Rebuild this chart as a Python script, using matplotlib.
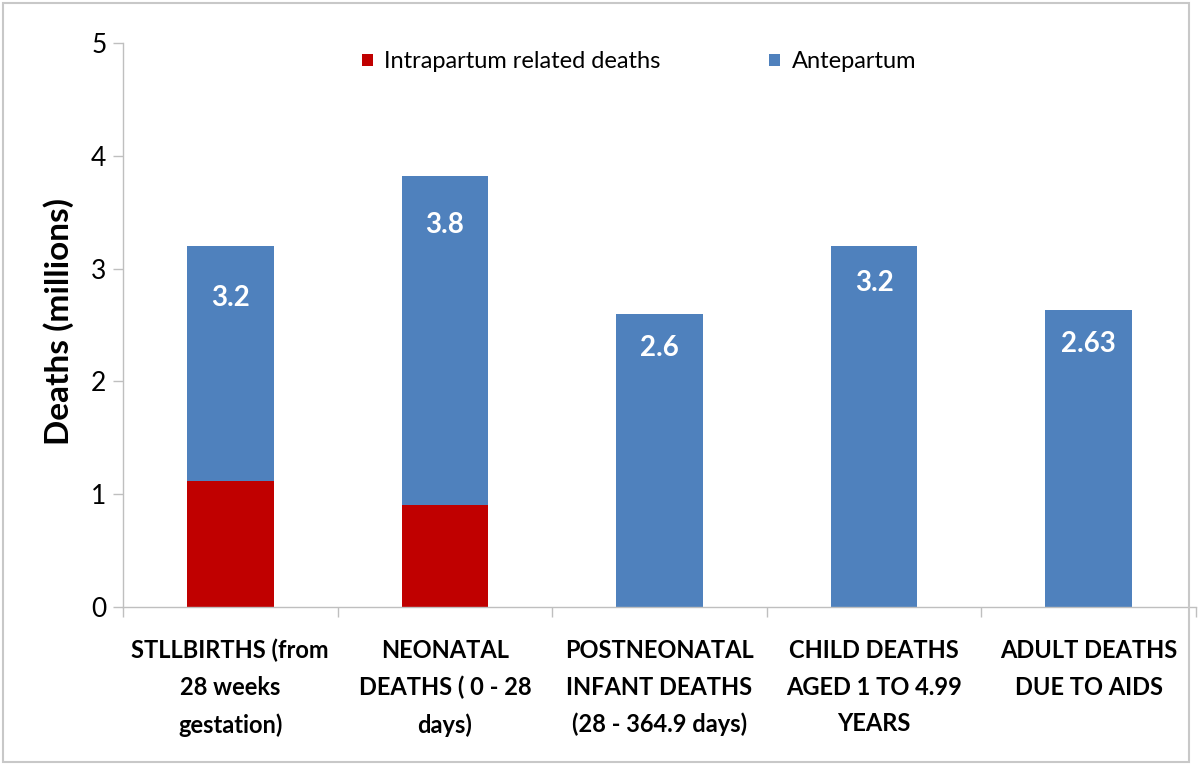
import matplotlib
matplotlib.use("Agg")
import matplotlib.pyplot as plt
from matplotlib.patches import Rectangle, Patch
import numpy as np

plt.rcParams['font.family'] = ['Lato', 'DejaVu Sans']

categories = [
    "STLLBIRTHS (from\n28 weeks\ngestation)",
    "NEONATAL\nDEATHS ( 0 - 28\ndays)",
    "POSTNEONATAL\nINFANT DEATHS\n(28 - 364.9 days)",
    "CHILD DEATHS\nAGED 1 TO 4.99\nYEARS",
    "ADULT DEATHS\nDUE TO AIDS",
]
intrapartum = [1.12, 0.90, 0.0, 0.0, 0.0]
totals = [3.2, 3.82, 2.6, 3.2, 2.63]
value_labels = ["3.2", "3.8", "2.6", "3.2", "2.63"]
antepartum = [t - i for t, i in zip(totals, intrapartum)]
series_names = ["Intrapartum related deaths", "Antepartum"]
yticks = [0, 1, 2, 3, 4, 5]

RED = "#C00000"
BLUE = "#4F81BD"
GRID = "#BFBFBF"

W, H = 1200, 765
fig = plt.figure(figsize=(W / 100, H / 100), dpi=100)
ax = fig.add_axes([123 / W, 1 - 607 / H, (1196 - 123) / W, (607 - 43) / H])

x = np.arange(len(categories))
ax.bar(x, intrapartum, width=0.404, color=RED, label=series_names[0])
ax.bar(x, antepartum, bottom=intrapartum, width=0.404, color=BLUE, label=series_names[1])

# value labels (offset below the top of each bar, in data units)
label_drop = [0.46, 0.43, 0.30, 0.33, 0.30]
for xi, t, lab, d in zip(x, totals, value_labels, label_drop):
    ax.text(xi, t - d, lab, ha="center", va="center", color="white",
            fontsize=20, fontweight="bold")

ax.set_xlim(-0.5, len(categories) - 0.5)
ax.set_ylim(0, 5)
ax.set_yticks(yticks)
ax.set_yticklabels([str(v) for v in yticks], fontsize=19)
ax.set_xticks(x)
ax.set_xticklabels(categories, fontsize=17, fontweight="bold", linespacing=1.72)
ax.set_xticks(np.arange(-0.5, len(categories), 1.0), minor=True)
ax.tick_params(axis="x", which="major", length=0, pad=23)
ax.tick_params(axis="x", which="minor", length=7, color=GRID, width=1)
ax.tick_params(axis="y", length=7, color=GRID, width=1, pad=5)

for s in ["top", "right"]:
    ax.spines[s].set_visible(False)
for s in ["left", "bottom"]:
    ax.spines[s].set_color(GRID)
    ax.spines[s].set_linewidth(1)

ax.set_ylabel("Deaths (millions)", fontsize=24, fontweight="bold")
ax.yaxis.set_label_coords(-0.046, 0.507)

handles = [Patch(facecolor=RED, edgecolor="none"), Patch(facecolor=BLUE, edgecolor="none")]
ax.legend(handles, series_names, ncol=2, frameon=False, fontsize=17,
          loc="center left", bbox_to_anchor=(362 / W, 1 - 62 / H),
          bbox_transform=fig.transFigure, borderpad=0, borderaxespad=0,
          handlelength=0.45, handleheight=0.45, handletextpad=0.5, columnspacing=4.6)

# outer chart border
fig.patches.append(Rectangle((3 / W, 3 / H), (1189 - 3) / W, (762 - 3) / H,
                             transform=fig.transFigure, fill=False,
                             edgecolor="#C8C8C8", linewidth=1.5))

fig.savefig("out.png", dpi=100)
